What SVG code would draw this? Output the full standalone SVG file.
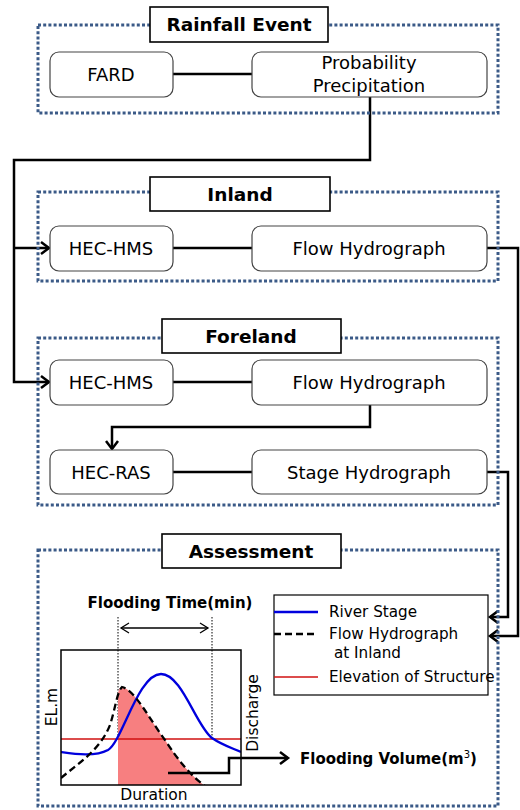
<svg xmlns="http://www.w3.org/2000/svg" width="520" height="810" viewBox="0 0 520 810">
<defs>
<style>
.frame{fill:none;stroke:#3b5a87;stroke-width:3;stroke-dasharray:3 2.2}
.title{fill:#fff;stroke:#000;stroke-width:1.6}
.ttxt{font-family:"DejaVu Sans",Verdana,sans-serif;font-weight:bold;font-size:18.5px;text-anchor:middle;fill:#000}
.box{fill:#fff;stroke:#444;stroke-width:1.2}
.btxt{font-family:"DejaVu Sans",Verdana,sans-serif;font-size:18px;text-anchor:middle;fill:#000}
.conn{fill:none;stroke:#000;stroke-width:2.5}
.ltxt{font-family:"DejaVu Sans",Verdana,sans-serif;font-size:15.2px;fill:#000}
.ctxt{font-family:"DejaVu Sans",Verdana,sans-serif;font-size:15.5px;fill:#000;text-anchor:middle}
.btitle{font-family:"DejaVu Sans",Verdana,sans-serif;font-size:15px;font-weight:bold;fill:#000}
</style>
<marker id="chev" markerUnits="userSpaceOnUse" markerWidth="14" markerHeight="16" refX="10" refY="7" orient="auto" viewBox="0 0 14 16">
<path d="M2,1 L10,7 L2,13" fill="none" stroke="#000" stroke-width="2.5"/>
</marker>
<marker id="chevs" markerUnits="userSpaceOnUse" markerWidth="14" markerHeight="16" refX="10" refY="6" orient="auto-start-reverse" viewBox="0 0 14 12">
<path d="M2,1 L10,6 L2,11" fill="none" stroke="#000" stroke-width="1.3"/>
</marker>
<clipPath id="chartclip"><rect x="61" y="650" width="180" height="135"/></clipPath>
</defs>
<rect width="520" height="810" fill="#fff"/>

<g id="connectors">
<line class="conn" x1="173" y1="74" x2="252" y2="74"/>
<path class="conn" d="M370,97 V160 H14 V382 H49" marker-end="url(#chev)"/>
<path class="conn" d="M14,248 H49" marker-end="url(#chev)"/>
<line class="conn" x1="173" y1="248" x2="252" y2="248"/>
<path class="conn" d="M487,248 H518 V636 H490" marker-end="url(#chev)"/>
<line class="conn" x1="173" y1="382" x2="252" y2="382"/>
<path class="conn" d="M370,405 V427 H112 V449" marker-end="url(#chev)"/>
<line class="conn" x1="173" y1="472" x2="252" y2="472"/>
<path class="conn" d="M487,472 H508 V617 H490" marker-end="url(#chev)"/>
</g>

<g id="rainfall-event">
<rect class="frame" x="38" y="25" width="460" height="88"/>
<rect class="title" x="150" y="7" width="178" height="35"/>
<text class="ttxt" x="239" y="31">Rainfall Event</text>
</g>
<g id="fard">
<rect class="box" x="50" y="52" width="123" height="45" rx="9"/>
<text class="btxt" x="111" y="81">FARD</text>
</g>
<g id="probability-precipitation">
<rect class="box" x="252" y="52" width="235" height="45" rx="9"/>
<text class="btxt" x="369" y="69">Probability</text>
<text class="btxt" x="369" y="92">Precipitation</text>
</g>

<g id="inland">
<rect class="frame" x="38" y="192" width="460" height="89"/>
<rect class="title" x="150" y="177" width="180" height="34"/>
<text class="ttxt" x="240" y="201">Inland</text>
</g>
<g id="inland-hec-hms">
<rect class="box" x="50" y="226" width="123" height="45" rx="9"/>
<text class="btxt" x="111" y="255">HEC-HMS</text>
</g>
<g id="inland-flow-hydrograph">
<rect class="box" x="252" y="226" width="235" height="45" rx="9"/>
<text class="btxt" x="369" y="255">Flow Hydrograph</text>
</g>

<g id="foreland">
<rect class="frame" x="38" y="338" width="460" height="167"/>
<rect class="title" x="162" y="319" width="179" height="34"/>
<text class="ttxt" x="251" y="343">Foreland</text>
</g>
<g id="foreland-hec-hms">
<rect class="box" x="50" y="360" width="123" height="45" rx="9"/>
<text class="btxt" x="111" y="389">HEC-HMS</text>
</g>
<g id="foreland-flow-hydrograph">
<rect class="box" x="252" y="360" width="235" height="45" rx="9"/>
<text class="btxt" x="369" y="389">Flow Hydrograph</text>
</g>
<g id="hec-ras">
<rect class="box" x="50" y="450" width="123" height="44" rx="9"/>
<text class="btxt" x="111" y="479">HEC-RAS</text>
</g>
<g id="stage-hydrograph">
<rect class="box" x="252" y="450" width="235" height="44" rx="9"/>
<text class="btxt" x="369" y="479">Stage Hydrograph</text>
</g>

<g id="assessment">
<rect class="frame" x="38" y="550" width="460" height="256"/>
<rect class="title" x="162" y="534" width="179" height="34"/>
<text class="ttxt" x="251" y="558">Assessment</text>
</g>

<g id="legend">
<rect x="274" y="595" width="214" height="100" fill="#fff" stroke="#000" stroke-width="1.2"/>
<line x1="274" y1="612" x2="318" y2="612" stroke="#0000dd" stroke-width="2.5"/>
<text class="ltxt" x="329" y="617">River Stage</text>
<line x1="274" y1="634" x2="318" y2="634" stroke="#000" stroke-width="2.5" stroke-dasharray="7 4"/>
<text class="ltxt" x="329" y="639">Flow Hydrograph</text>
<text class="ltxt" x="334" y="658">at Inland</text>
<line x1="274" y1="677" x2="318" y2="677" stroke="#d01010" stroke-width="1.5"/>
<text class="ltxt" x="329" y="682">Elevation of Structure</text>
</g>

<g id="chart">
<text class="btitle" x="170" y="608" text-anchor="middle">Flooding Time(min)</text>
<line x1="118" y1="617" x2="118" y2="740" stroke="#000" stroke-width="1" stroke-dasharray="1.5 1.5"/>
<line x1="212" y1="617" x2="212" y2="738" stroke="#000" stroke-width="1" stroke-dasharray="1.5 1.5"/>
<line x1="121" y1="628" x2="208" y2="628" stroke="#000" stroke-width="1.3" marker-start="url(#chevs)" marker-end="url(#chevs)"/>
<g clip-path="url(#chartclip)">
<path d="M118,785 L118,693 C119,689 120,687 122,687 C135,690 150,720 165,740 C178,760 190,775 205,786 Z" fill="#f77f80"/>
<line x1="61" y1="739" x2="241" y2="739" stroke="#d01010" stroke-width="1.5"/>
<path d="M61,752 C75,754 95,757 108,750 C122,742 138,674 161,674 C182,674 196,726 212,738 C222,745 232,748 241,752" fill="none" stroke="#0000dd" stroke-width="2.3"/>
<path d="M61,778 C80,762 100,750 110,725 C115,710 117,692 122,687 C135,690 150,720 165,740 C178,760 190,775 205,786" fill="none" stroke="#000" stroke-width="2.3" stroke-dasharray="7 4"/>
</g>
<rect x="61" y="650" width="180" height="135" fill="none" stroke="#000" stroke-width="1.5"/>
<text class="ctxt" x="0" y="0" transform="translate(57,707) rotate(-90)">EL.m</text>
<text class="ctxt" x="0" y="0" transform="translate(258,713) rotate(-90)">Discharge</text>
<text class="ctxt" x="154" y="800">Duration</text>
<path class="conn" d="M168,773 H229 V758 H288" stroke-width="2" marker-end="url(#chev)"/>
<text class="btitle" x="300" y="764">Flooding Volume(m<tspan font-size="10" dy="-6" font-weight="normal">3</tspan><tspan dy="6">)</tspan></text>
</g>
</svg>
